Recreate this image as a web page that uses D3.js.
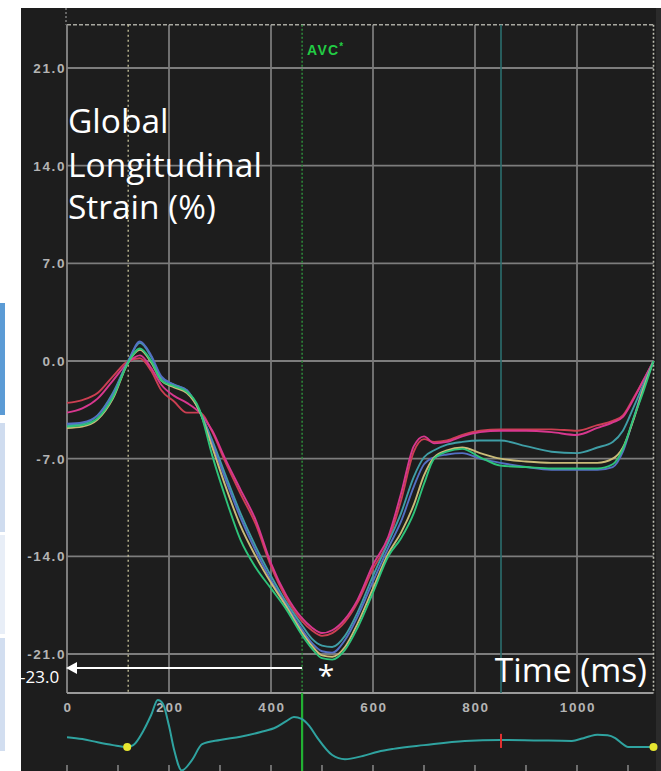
<!DOCTYPE html>
<html><head><meta charset="utf-8">
<script src="https://cdn.jsdelivr.net/npm/d3@7/dist/d3.min.js"></script>
<style>html,body{margin:0;padding:0;background:#fff;}svg{display:block;}</style>
</head><body>
<script>
// ---------- DATA ----------
const times = [0,30,60,90,120,143,165,185,210,235,260,285,310,340,370,400,430,460,480,500,520,545,570,600,630,655,680,700,720,745,775,810,850,900,950,1000,1040,1070,1090,1110,1130,1150];
const seriesNames = ["red","magenta","teal","blue","yellow","green"];
const seriesColors = ["#cc3f52","#d8378f","#3f9ea6","#5470c4","#cabb78","#2ec47a"];
const redVals = [-3.0,-2.8,-2.3,-1.1,0.0,0.2,-0.7,-2.1,-2.9,-3.7,-3.7,-5.1,-7.2,-9.5,-11.7,-14.7,-17.0,-18.6,-19.3,-19.7,-19.5,-18.7,-17.3,-14.9,-12.9,-10.0,-6.5,-5.6,-5.8,-5.7,-5.3,-5.0,-4.9,-4.9,-4.9,-5.0,-4.6,-4.3,-3.9,-2.7,-1.4,0];
const magentaVals = [-3.7,-3.4,-2.7,-1.4,-0.1,0.4,-0.5,-1.7,-2.5,-3.0,-3.7,-5.0,-7.0,-9.2,-11.4,-14.5,-16.8,-18.4,-19.1,-19.5,-19.3,-18.5,-17.1,-14.6,-12.6,-9.5,-6.1,-5.4,-5.9,-5.8,-5.4,-5.1,-5.0,-5.0,-5.1,-5.3,-4.8,-4.4,-4.0,-2.8,-1.4,0];
const tealVals = [-4.6,-4.5,-3.9,-2.3,0.0,1.3,0.3,-1.2,-1.7,-2.1,-3.6,-5.7,-8.1,-10.9,-13.3,-15.4,-17.3,-18.9,-19.9,-20.4,-20.5,-19.7,-18.0,-15.4,-13.0,-10.9,-8.3,-6.9,-6.4,-6.0,-5.8,-5.7,-5.7,-6.1,-6.5,-6.6,-6.2,-5.8,-5.0,-3.4,-1.7,0];
const blueVals = [-4.5,-4.4,-3.9,-2.4,0.0,1.4,0.4,-1.1,-1.7,-2.1,-3.6,-5.9,-8.4,-11.2,-13.6,-15.7,-17.5,-19.2,-20.2,-20.8,-20.9,-20.0,-18.3,-15.8,-13.4,-11.5,-9.0,-7.4,-6.9,-6.7,-6.6,-7.0,-7.3,-7.6,-7.8,-7.8,-7.8,-7.6,-6.5,-4.2,-1.9,0];
const yellowVals = [-4.8,-4.7,-4.2,-2.7,-0.1,0.8,-0.1,-1.4,-1.9,-2.3,-3.6,-6.2,-8.9,-11.8,-14.0,-15.9,-17.6,-19.4,-20.4,-21.1,-21.2,-20.5,-18.8,-16.3,-13.8,-12.3,-10.3,-8.2,-6.9,-6.4,-6.2,-6.6,-7.0,-7.2,-7.3,-7.3,-7.3,-7.0,-6.2,-4.3,-2.0,0];
const greenVals = [-4.7,-4.6,-4.1,-2.6,-0.1,0.9,0.0,-1.4,-1.8,-2.2,-3.5,-6.8,-9.7,-12.8,-14.8,-16.3,-17.8,-19.6,-20.6,-21.3,-21.4,-20.7,-19.1,-16.6,-14.0,-12.7,-10.9,-8.8,-7.0,-6.5,-6.3,-6.9,-7.5,-7.6,-7.7,-7.7,-7.7,-7.4,-6.3,-4.2,-2.2,0];
const seriesValues = [redVals, magentaVals, tealVals, blueVals, yellowVals, greenVals];

const yTickValues = [21,14,7,0,-7,-14,-21];
const yTickLabels = ["21.0","14.0","7.0","0.0","-7.0","-14.0","-21.0"];
const xTickValues = [0,200,400,600,800,1000];
const xTickLabels = ["0","200","400","600","800","1000"];
const gridX = [200,400,600,800,1000];
const ecgTickValues = [0,100,200,300,400,500,600,700,800,900,1000,1100];

const ecgTimes = [0,30,60,90,118,130,150,165,178,188,200,210,225,245,265,300,340,380,410,430,445,460,475,490,520,545,580,610,640,700,780,850,920,990,1010,1025,1040,1060,1075,1090,1100,1150];
const ecgVals = [0.21,0.17,0.10,0.04,0.0,0.04,0.35,0.68,1.0,0.92,0.45,-0.06,-0.5,-0.28,0.06,0.15,0.22,0.32,0.42,0.55,0.64,0.60,0.45,0.21,-0.17,-0.26,-0.19,-0.10,-0.04,0.04,0.13,0.15,0.14,0.13,0.18,0.23,0.26,0.25,0.19,0.06,0.0,0.0];
const ecgDots = [118, 1150];
const tStart = 120, tAVC = 461, tMark = 851, tEnd = 1150;
const peakValue = -22.0;

// ---------- LAYOUT ----------
const W = 661, H = 771;
const svg = d3.select("body").append("svg").attr("width", W).attr("height", H);
const x = d3.scaleLinear().domain([0, 1000]).range([67, 577]);
const y = d3.scaleLinear().domain([-21, 21]).range([654, 68]);
const ecgY = d3.scaleLinear().domain([-0.5, 1.0]).range([770.5, 700]);
const yTop = y(24.1), yBot = y(-23.8);

// slide remnants on the left
const strips = [[303,415,"#5b9bd5"],[423,532,"#cfdcef"],[535,634,"#e8eef7"],[638,751,"#d2def0"]];
svg.selectAll("rect.strip").data(strips).join("rect")
  .attr("x",0).attr("width",5).attr("y",d=>d[0]).attr("height",d=>d[1]-d[0]).attr("fill",d=>d[2]);

// dark panel
svg.append("rect").attr("x",21).attr("y",8).attr("width",W-21).attr("height",H-8).attr("fill","#1d1d1d");
svg.append("rect").attr("x",656).attr("y",8).attr("width",5).attr("height",H-8).attr("fill","#2b2b2b");

const g = svg.append("g");
// horizontal grid
g.selectAll("line.hg").data(yTickValues).join("line")
  .attr("x1",x(0)).attr("x2",x(tEnd)).attr("y1",d=>y(d)).attr("y2",d=>y(d))
  .attr("stroke","#7d7d7d").attr("stroke-width",1.8);
// vertical grid
g.selectAll("line.vg").data(gridX).join("line")
  .attr("x1",d=>x(d)).attr("x2",d=>x(d)).attr("y1",yTop).attr("y2",yBot)
  .attr("stroke","#7a7a7a").attr("stroke-width",1.8);
// top dashed line
g.append("line").attr("x1",x(0)).attr("x2",x(tEnd)).attr("y1",yTop).attr("y2",yTop)
  .attr("stroke","#a8a8a0").attr("stroke-width",1.3).attr("stroke-dasharray","4,2");
// left axis
g.append("line").attr("x1",x(0)).attr("x2",x(0)).attr("y1",yTop).attr("y2",yBot)
  .attr("stroke","#8a8a8a").attr("stroke-width",1.8);
g.append("line").attr("x1",x(0)-1).attr("x2",x(0)-1).attr("y1",8).attr("y2",yTop)
  .attr("stroke","#8a8a8a").attr("stroke-width",1.3).attr("stroke-dasharray","2,2");
// bottom axis
g.append("line").attr("x1",x(0)).attr("x2",x(tEnd)).attr("y1",yBot).attr("y2",yBot)
  .attr("stroke","#9a9a9a").attr("stroke-width",2);
// marker lines
g.append("line").attr("x1",x(tStart)).attr("x2",x(tStart)).attr("y1",yTop).attr("y2",yBot)
  .attr("stroke","#c6c29a").attr("stroke-width",1.3).attr("stroke-dasharray","2,3");
g.append("line").attr("x1",x(tAVC)).attr("x2",x(tAVC)).attr("y1",yTop).attr("y2",yBot)
  .attr("stroke","#2e8c3c").attr("stroke-width",1.5).attr("stroke-dasharray","2,2");
g.append("line").attr("x1",x(tMark)).attr("x2",x(tMark)).attr("y1",yTop).attr("y2",yBot)
  .attr("stroke","#2b6e6e").attr("stroke-width",1.6);
g.append("line").attr("x1",x(tEnd)).attr("x2",x(tEnd)).attr("y1",yTop).attr("y2",yBot)
  .attr("stroke","#bdbdb0").attr("stroke-width",1.6).attr("stroke-dasharray","2,2");

// AVC label
const avc = g.append("text").attr("x",x(tAVC)+5).attr("y",55)
  .attr("font-family","Liberation Sans, Arial, sans-serif").attr("font-weight","bold")
  .attr("font-size",14).attr("letter-spacing",1.2).attr("fill","#22cc44").text("AVC");
avc.append("tspan").attr("dy",-5).attr("font-size",10).text("*");

// y tick labels
const tickFont = {family:"Liberation Sans, Arial, sans-serif"};
g.selectAll("text.yt").data(yTickValues).join("text")
  .attr("x",66).attr("y",d=>y(d)).attr("dy","0.36em").attr("text-anchor","end")
  .attr("font-family",tickFont.family).attr("font-weight","bold")
  .attr("font-size",13.5).attr("letter-spacing",1.6).attr("fill","#b4b4b4").text((d,i)=>yTickLabels[i]);
// x tick labels
g.selectAll("text.xt").data(xTickValues).join("text")
  .attr("x",d=>x(d)+1).attr("y",712).attr("text-anchor","middle")
  .attr("font-family",tickFont.family).attr("font-weight","bold")
  .attr("font-size",13.5).attr("letter-spacing",1.6).attr("fill","#b4b4b4").text((d,i)=>xTickLabels[i]);

// ECG strip
g.append("line").attr("x1",x(tAVC)).attr("x2",x(tAVC)).attr("y1",yBot).attr("y2",H)
  .attr("stroke","#22b033").attr("stroke-width",2.2);
g.selectAll("line.et").data(ecgTickValues).join("line")
  .attr("x1",d=>x(d)).attr("x2",d=>x(d)).attr("y1",765).attr("y2",H)
  .attr("stroke","#9a9a9a").attr("stroke-width",1.3);
const ecgLine = d3.line().x((d,i)=>x(ecgTimes[i])).y(d=>ecgY(d)).curve(d3.curveMonotoneX);
g.append("path").attr("d",ecgLine(ecgVals)).attr("fill","none").attr("stroke","#2fa3a0").attr("stroke-width",2);
g.append("line").attr("x1",x(tMark)).attr("x2",x(tMark)).attr("y1",ecgY(0.28)).attr("y2",ecgY(-0.02))
  .attr("stroke","#e03030").attr("stroke-width",2);
g.selectAll("circle.ed").data(ecgDots).join("circle")
  .attr("cx",d=>x(d)).attr("cy",ecgY(0)).attr("r",4).attr("fill","#e6e630");

// strain curves
const line = d3.line().x((d,i)=>x(times[i])).y(d=>y(d)).curve(d3.curveMonotoneX);
g.selectAll("path.s").data(seriesValues).join("path")
  .attr("d",d=>line(d)).attr("fill","none")
  .attr("stroke",(d,i)=>seriesColors[i]).attr("stroke-width",1.9);

// annotations
const ann = svg.append("g").attr("font-family","'Open Sans', sans-serif").attr("fill","#ffffff");
const lab = ["Global","Longitudinal","Strain (%)"];
const labBase = [133,177,219];
ann.selectAll("text.l").data(lab).join("text").attr("x",68).attr("y",(d,i)=>labBase[i])
  .attr("font-size",33.5).text(d=>d);
ann.append("text").attr("x",647).attr("y",682).attr("text-anchor","end").attr("font-size",33.5).text("Time (ms)");
ann.append("text").attr("x",326).attr("y",686).attr("text-anchor","middle").attr("font-size",30).text("*");
ann.append("text").attr("x",20).attr("y",683).attr("font-size",17).text("-23.0");
// arrow
ann.append("line").attr("x1",x(tAVC)).attr("x2",x(0)+8).attr("y1",y(peakValue)).attr("y2",y(peakValue))
  .attr("stroke","#ffffff").attr("stroke-width",2);
const ay = y(peakValue), ax = x(0)-1;
ann.append("path").attr("d",`M${ax},${ay} L${ax+11},${ay-6} L${ax+11},${ay+6} Z`).attr("fill","#ffffff");
</script>
</body></html>
